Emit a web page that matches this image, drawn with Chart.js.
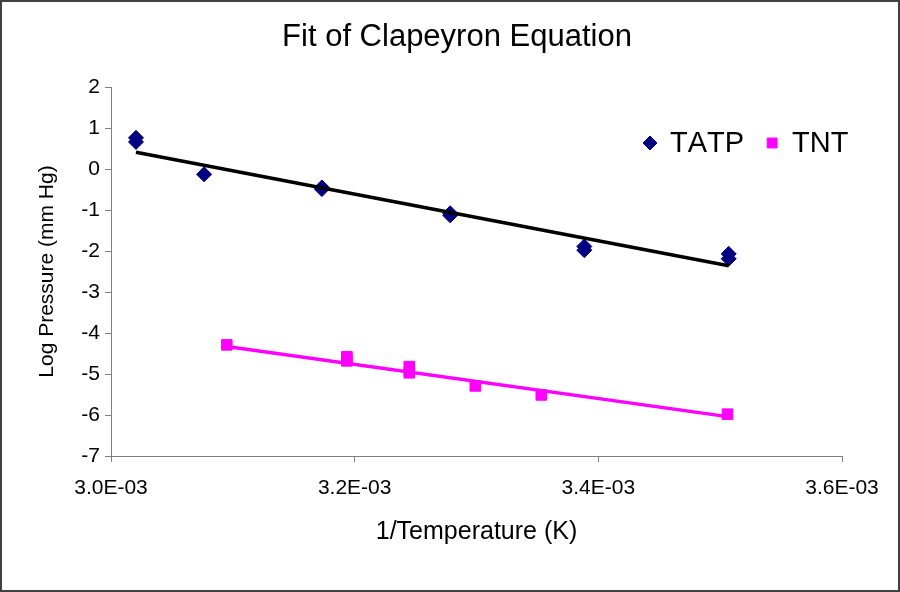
<!DOCTYPE html>
<html>
<head>
<meta charset="utf-8">
<script src="https://cdn.jsdelivr.net/npm/chart.js@4.4.0/dist/chart.umd.min.js"></script>
<style>
  body { margin: 0; background: #fff; }
  #marco {
    position: relative;
    width: 900px;
    height: 592px;
    box-sizing: border-box;
    border: 2px solid #404040;
    background: #fff;
  }
</style>
</head>
<body>
<div id="marco"><canvas id="grafico"></canvas></div>
<script>
const tatpX = [3.0205e-3, 3.0205e-3, 3.0764e-3, 3.1731e-3, 3.1731e-3, 3.2784e-3, 3.2784e-3, 3.3885e-3, 3.3885e-3, 3.5070e-3, 3.5070e-3];
const tatpY = [0.76, 0.66, -0.13, -0.45, -0.49, -1.08, -1.13, -1.89, -1.98, -2.07, -2.19];

const tntX = [3.0950e-3, 3.1936e-3, 3.1936e-3, 3.2448e-3, 3.2448e-3, 3.2990e-3, 3.3532e-3, 3.5060e-3];
const tntY = [-4.29, -4.58, -4.68, -4.82, -4.97, -5.29, -5.51, -5.98];

// rectas de ajuste (extremos)
const tatpFitX = [3.0205e-3, 3.5070e-3];
const tatpFitY = [0.41, -2.36];
const tntFitX = [3.0950e-3, 3.5060e-3];
const tntFitY = [-4.33, -6.04];

const xTickValues = [3.0e-3, 3.2e-3, 3.4e-3, 3.6e-3];
const xTickLabels = ['3.0E-03', '3.2E-03', '3.4E-03', '3.6E-03'];
const yTickLabels = ['-7', '-6', '-5', '-4', '-3', '-2', '-1', '0', '1', '2'];
const legendNames = ['TATP', 'TNT'];

const fuente = "'Liberation Sans', Arial, sans-serif";

function puntos(xs, ys) {
  return xs.map((x, i) => ({ x: x, y: ys[i] }));
}

// leyenda dentro del area del grafico, arriba a la derecha
const leyendaInterna = {
  id: 'leyendaInterna',
  afterDraw(chart) {
    const ctx = chart.ctx;
    const area = chart.chartArea;
    const y = area.top + 56;
    let x = area.left + 539;
    ctx.save();
    ctx.font = '29px ' + fuente;
    ctx.fontKerning = 'none';
    ctx.textBaseline = 'middle';
    ctx.textAlign = 'left';
    legendNames.forEach((nombre, i) => {
      const ds = chart.data.datasets[i];
      ctx.fillStyle = ds.backgroundColor;
      ctx.strokeStyle = ds.borderColor;
      ctx.lineWidth = 1;
      Chart.helpers.drawPoint(ctx, {
        pointStyle: ds.pointStyle,
        radius: 7,
        rotation: 0,
        borderWidth: 1
      }, x, y);
      ctx.fillStyle = '#000';
      ctx.fillText(nombre, x + 20, y + 1);
      x += 20 + ctx.measureText(nombre).width + 28;
    });
    ctx.restore();
  }
};

function crearGrafico() {
  const ctx = document.getElementById('grafico').getContext('2d');
  return new Chart(ctx, {
    type: 'scatter',
    data: {
      datasets: [
        {
          label: 'TATP',
          data: puntos(tatpX, tatpY),
          pointStyle: 'rectRot',
          pointRadius: 7.5,
          borderWidth: 1,
          backgroundColor: '#000080',
          borderColor: '#000080',
          order: 2
        },
        {
          label: 'TNT',
          data: puntos(tntX, tntY),
          pointStyle: 'rect',
          pointRadius: 7.5,
          borderWidth: 1,
          backgroundColor: '#FF00FF',
          borderColor: '#FF00FF',
          order: 2
        },
        {
          label: 'ajuste TATP',
          data: puntos(tatpFitX, tatpFitY),
          showLine: true,
          pointRadius: 0,
          borderWidth: 3.5,
          borderColor: '#000000',
          order: 1
        },
        {
          label: 'ajuste TNT',
          data: puntos(tntFitX, tntFitY),
          showLine: true,
          pointRadius: 0,
          borderWidth: 3.5,
          borderColor: '#FF00FF',
          order: 1
        }
      ]
    },
    plugins: [leyendaInterna],
    options: {
      responsive: true,
      maintainAspectRatio: false,
      animation: false,
      layout: { padding: { left: 14, right: 0, top: 0, bottom: 0 } },
      plugins: {
        tooltip: { enabled: false },
        legend: { display: false },
        title: {
          display: true,
          text: 'Fit of Clapeyron Equation',
          color: '#000',
          font: { family: fuente, size: 31, weight: 'normal' },
          padding: { top: 17, bottom: 30.8 }
        }
      },
      scales: {
        x: {
          type: 'linear',
          min: 3.0e-3,
          max: 3.6e-3,
          afterBuildTicks: scale => {
            scale.ticks = xTickValues.map(v => ({ value: v }));
          },
          afterFit: scale => { scale.height = 134; },
          border: { color: '#808080', width: 1 },
          grid: { drawOnChartArea: false, drawTicks: true, tickLength: 6, color: '#808080' },
          ticks: {
            color: '#000',
            padding: 14,
            maxRotation: 0,
            font: { family: fuente, size: 21 },
            callback: (v, i) => xTickLabels[i]
          },
          title: {
            display: true,
            text: '1/Temperature (K)',
            color: '#000',
            font: { family: fuente, size: 25 },
            padding: { top: 0, bottom: 43 }
          }
        },
        y: {
          min: -7,
          max: 2,
          afterFit: scale => { scale.width = 95; },
          border: { color: '#808080', width: 1 },
          grid: { drawOnChartArea: false, drawTicks: true, tickLength: 6, color: '#808080' },
          ticks: {
            stepSize: 1,
            color: '#000',
            padding: 5,
            font: { family: fuente, size: 21 },
            callback: (v) => yTickLabels[v + 7]
          },
          title: {
            display: true,
            text: 'Log Pressure (mm Hg)',
            color: '#000',
            font: { family: fuente, size: 21 },
            padding: { top: 18.4, bottom: 0 }
          }
        },
        margen: {
          type: 'linear',
          position: 'right',
          display: true,
          afterFit: scale => { scale.width = 56; },
          border: { display: false },
          grid: { display: false },
          ticks: { display: false }
        }
      }
    }
  });
}

document.addEventListener('DOMContentLoaded', crearGrafico);
</script>
</body>
</html>
